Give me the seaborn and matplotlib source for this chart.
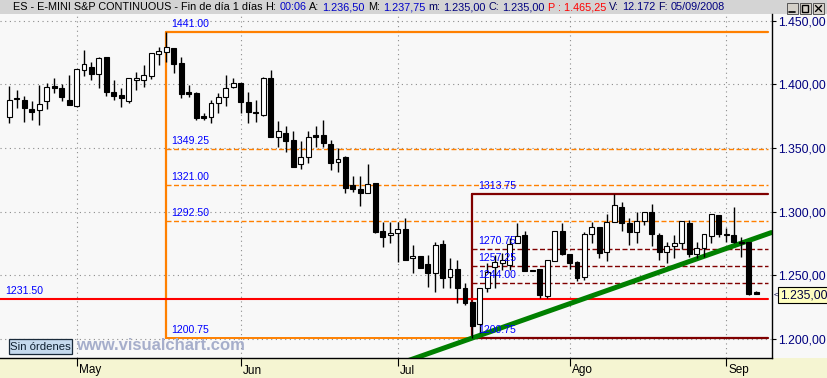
import numpy as np
import pandas as pd
import matplotlib
matplotlib.use("Agg")
import matplotlib.pyplot as plt
import seaborn as sns
from matplotlib.patches import Rectangle
from matplotlib.lines import Line2D

sns.set_theme(style="white")
plt.rcParams['font.family'] = ['Liberation Sans', 'DejaVu Sans']

# ---------------- data ----------------
opens = [1374.0, 1389.5, 1387.5, 1380.25, 1379.75, 1386.5, 1398.5, 1396.75, 1387.5, 1382.75,
         1411.0, 1413.25, 1408.25, 1421.5, 1393.5, 1391.5, 1387.0, 1403.0, 1403.0, 1406.75,
         1424.0, 1425.0, 1428.25, 1416.5, 1393.5, 1393.25, 1374.75, 1374.0, 1385.0, 1389.75,
         1397.5, 1400.75, 1386.0, 1378.5, 1376.0, 1404.5, 1358.25, 1361.5, 1356.25, 1337.0,
         1342.5, 1360.0, 1360.0, 1353.0, 1338.75, 1343.0, 1320.5, 1317.75, 1314.75, 1322.5,
         1284.75, 1281.5, 1283.0, 1286.0, 1263.25, 1265.0, 1259.0, 1251.5, 1274.5, 1248.5,
         1254.75, 1239.75, 1229.0, 1211.75, 1239.75, 1256.75, 1260.0, 1258.0, 1275.0, 1281.5,
         1254.0, 1255.0, 1233.75, 1261.25, 1284.75, 1266.5, 1260.5, 1249.0, 1282.25, 1287.75,
         1268.0, 1291.5, 1303.5, 1290.75, 1284.25, 1292.75, 1299.5, 1281.5, 1268.0, 1273.25,
         1275.0, 1290.75, 1266.5, 1271.25, 1281.0, 1297.25, 1282.5, 1281.5, 1276.5, 1275.75,
         1236.5]
highs = [1398.5, 1395.5, 1390.75, 1386.75, 1399.0, 1401.25, 1405.0, 1400.5, 1407.25, 1412.0,
         1427.0, 1417.75, 1421.0, 1421.75, 1403.25, 1396.75, 1404.75, 1409.75, 1415.0, 1424.5,
         1429.0, 1441.0, 1428.5, 1421.5, 1399.5, 1393.5, 1377.25, 1387.5, 1393.0, 1407.25,
         1405.0, 1401.0, 1394.0, 1388.0, 1406.0, 1411.25, 1371.5, 1367.25, 1363.5, 1355.5,
         1363.5, 1367.25, 1372.0, 1356.25, 1349.75, 1343.5, 1328.0, 1328.0, 1337.5, 1322.75,
         1292.0, 1292.0, 1292.0, 1294.75, 1273.75, 1265.25, 1266.0, 1276.5, 1277.75, 1263.25,
         1262.0, 1243.75, 1229.25, 1240.0, 1259.5, 1266.0, 1267.25, 1279.0, 1291.25, 1284.75,
         1254.5, 1255.25, 1262.0, 1284.5, 1290.75, 1266.75, 1261.25, 1284.25, 1291.5, 1288.0,
         1298.0, 1313.75, 1307.25, 1294.75, 1300.0, 1299.5, 1305.75, 1283.0, 1276.5, 1281.5,
         1292.75, 1293.5, 1276.5, 1282.5, 1298.0, 1297.5, 1287.0, 1303.75, 1280.25, 1276.0,
         1237.75]
lows = [1369.75, 1381.0, 1370.5, 1372.0, 1368.0, 1380.25, 1393.0, 1386.75, 1383.5, 1382.5,
        1406.25, 1403.25, 1396.75, 1391.0, 1387.5, 1382.0, 1385.5, 1395.75, 1398.0, 1404.0,
        1415.0, 1417.75, 1409.0, 1389.0, 1390.0, 1372.0, 1372.0, 1369.75, 1377.25, 1383.0,
        1397.25, 1377.25, 1369.25, 1370.5, 1375.0, 1358.75, 1350.5, 1347.0, 1335.0, 1333.25,
        1338.0, 1351.0, 1351.0, 1332.5, 1331.25, 1314.75, 1315.5, 1304.5, 1314.5, 1283.0,
        1272.5, 1275.5, 1260.75, 1262.0, 1251.5, 1255.75, 1241.0, 1237.0, 1239.75, 1239.75,
        1228.0, 1226.75, 1200.75, 1204.5, 1237.0, 1239.75, 1254.0, 1254.0, 1275.0, 1253.5,
        1253.0, 1232.0, 1232.0, 1261.0, 1266.0, 1254.75, 1245.75, 1246.25, 1275.0, 1263.25,
        1261.5, 1291.5, 1285.0, 1273.75, 1275.0, 1289.5, 1273.25, 1262.0, 1260.0, 1263.25,
        1270.5, 1264.5, 1263.25, 1264.5, 1275.0, 1280.25, 1276.5, 1275.5, 1264.5, 1234.5,
        1235.0]
closes = [1387.5, 1388.5, 1381.0, 1378.0, 1384.75, 1397.5, 1396.75, 1390.25, 1383.75, 1411.75,
          1415.5, 1408.25, 1420.25, 1394.0, 1390.75, 1389.0, 1404.5, 1404.5, 1407.0, 1424.25,
          1425.75, 1429.0, 1416.0, 1392.5, 1392.5, 1373.75, 1373.75, 1385.0, 1390.25, 1397.25,
          1400.75, 1385.75, 1378.0, 1377.25, 1404.5, 1358.75, 1363.0, 1355.75, 1335.25, 1342.5,
          1358.75, 1358.75, 1353.5, 1338.5, 1341.25, 1318.25, 1317.5, 1314.5, 1321.5, 1284.0,
          1279.75, 1283.5, 1286.0, 1262.0, 1265.0, 1256.0, 1251.5, 1273.5, 1247.5, 1254.75,
          1239.75, 1228.5, 1210.5, 1239.75, 1252.75, 1260.75, 1262.0, 1274.5, 1281.0, 1253.5,
          1253.0, 1234.5, 1262.0, 1284.5, 1266.5, 1259.5, 1248.0, 1282.5, 1287.75, 1267.25,
          1292.0, 1305.0, 1291.25, 1284.25, 1292.75, 1299.5, 1282.25, 1268.0, 1273.25, 1275.0,
          1292.5, 1266.5, 1271.25, 1282.5, 1297.75, 1282.5, 1281.5, 1275.75, 1275.0, 1235.25,
          1235.0]

month_labels = ["May", "Jun", "Jul", "Ago", "Sep"]
month_index = [9, 31, 52, 75, 96]

price_ticks = [1200, 1250, 1300, 1350, 1400, 1450]
price_tick_labels = ["1.200,00", "1.250,00", "1.300,00", "1.350,00", "1.400,00", "1.450,00"]

fib1_levels = [1441.00, 1349.25, 1321.00, 1292.50, 1200.75]
fib1_labels = ["1441.00", "1349.25", "1321.00", "1292.50", "1200.75"]
fib1_start = 21
fib2_levels = [1313.75, 1270.75, 1257.25, 1244.00, 1200.75]
fib2_labels = ["1313.75", "1270.75", "1257.25", "1244.00", "1200.75"]
fib2_start = 62
support_level = 1231.50
support_label = "1231.50"
trend_x = [52, 102]
trend_y = [1180.1, 1283.5]
last_price_label = "1.235,00"

title_segments = [
    ("ES - E-MINI S&P CONTINUOUS - Fin de día 1 días", "#000000"),
    ("H:", "#000000"), ("00:06", "#0000C8"),
    ("A:", "#000000"), ("1.236,50", "#0000C8"),
    ("M:", "#000000"), ("1.237,75", "#0000C8"),
    ("m:", "#000060"), ("1.235,00", "#000080"),
    ("C:", "#000060"), ("1.235,00", "#000080"),
    ("P : 1.465,25", "#FF0000"),
    ("V:", "#000060"), ("12.172", "#000080"),
    ("F:", "#000060"), ("05/09/2008", "#000080"),
]

df = pd.DataFrame({"o": opens, "h": highs, "l": lows, "c": closes})
df["i"] = np.arange(len(df))

# ---------------- figure ----------------
W, H = 828, 378
fig = plt.figure(figsize=(W / 100, H / 100), dpi=100, facecolor="#F8F8F8")

def fx(px):
    return px / W

def fy(py):
    return 1 - py / H

# background bands (behind the axes)
fig.patches.append(Rectangle((0, fy(14)), 1, 14 / H, transform=fig.transFigure,
                             facecolor="#D4D4D4", edgecolor="none", zorder=-2))
fig.patches.append(Rectangle((0, 0), 1, fy(358), transform=fig.transFigure,
                             facecolor="#F5F5D2", edgecolor="none", zorder=-2))

ax = fig.add_axes([0, fy(358), fx(772), (358 - 14) / H])
ax.set_facecolor("#F8F8F8")
x0 = -9.3 / 7.47
x1 = (772 - 9.3) / 7.47
ax.set_xlim(x0, x1)
ax.set_ylim(1185.05, 1455.13)

# grid
grid_kw = dict(color="#8C8C8C", lw=0.8, linestyle=(0, (1, 3.2)), zorder=1)
for p in price_ticks:
    ax.axhline(p, **grid_kw)
for m in month_index:
    ax.axvline(m, **grid_kw)

x_end = (768 - 9.3) / 7.47
dash = (0, (3.6, 1.8))
ORANGE = "#FF8000"
DRED = "#800000"
BLUE = "#0000FF"

# fib 1 (orange)
ax.plot([fib1_start, fib1_start], [fib1_levels[-1], fib1_levels[0]], color=ORANGE, lw=1.6, zorder=2)
ax.plot([fib1_start, x_end], [fib1_levels[0], fib1_levels[0]], color=ORANGE, lw=1.6, zorder=2)
ax.plot([fib1_start, fib2_start], [fib1_levels[-1], fib1_levels[-1]], color=ORANGE, lw=1.4, zorder=2)
for lv in fib1_levels[1:-1]:
    ax.plot([fib1_start, x_end], [lv, lv], color=ORANGE, lw=1.0, linestyle=dash, zorder=2)
for lv, lab in zip(fib1_levels, fib1_labels):
    ax.annotate(lab, xy=(fib1_start, lv), xytext=(3.5, 5.8), textcoords="offset points",
                ha="left", va="center", color=BLUE, fontsize=7.6, zorder=6)

# fib 2 (dark red)
ax.plot([fib2_start - 0.1, fib2_start - 0.1], [fib2_levels[-1], fib2_levels[0]], color=DRED, lw=1.6, zorder=2)
for lv in (fib2_levels[0], fib2_levels[-1]):
    ax.plot([fib2_start - 0.1, x_end], [lv, lv], color=DRED, lw=1.6, zorder=2)
for lv in fib2_levels[1:-1]:
    ax.plot([fib2_start, x_end], [lv, lv], color=DRED, lw=1.0, linestyle=dash, zorder=2)
for lv, lab in zip(fib2_levels, fib2_labels):
    ax.annotate(lab, xy=(fib2_start, lv), xytext=(4, 5.8), textcoords="offset points",
                ha="left", va="center", color=BLUE, fontsize=7.6, zorder=6)

# support line
ax.plot([x0, x_end], [support_level, support_level], color="#FF0000", lw=1.5, zorder=2)
ax.annotate(support_label, xy=(x0, support_level), xytext=(3.5, 5.6), textcoords="offset points",
            ha="left", va="center", color=BLUE, fontsize=7.6, zorder=6)

# trend line (seaborn)
sns.lineplot(x=trend_x, y=trend_y, ax=ax, color="#008000", linewidth=3.6, zorder=2.5)

# candles
ax.vlines(df["i"], df["l"], df["h"], color="black", lw=1.0, zorder=4)
bottoms = np.minimum(df["o"], df["c"])
heights = np.maximum(np.abs(df["c"] - df["o"]), 0.6)
faces = np.where(df["c"] >= df["o"], "white", "black")
ax.bar(df["i"], heights, bottom=bottoms, width=0.66, color=faces, edgecolor="black",
       linewidth=0.8, zorder=5)

# axes styling
for s in ("top", "left"):
    ax.spines[s].set_visible(False)
ax.spines["right"].set_color("black")
ax.spines["right"].set_linewidth(1.0)
ax.spines["bottom"].set_color("black")
ax.spines["bottom"].set_linewidth(1.0)
ax.yaxis.tick_right()
ax.set_yticks(price_ticks)
ax.set_yticklabels(price_tick_labels)
ax.tick_params(axis="y", which="both", right=True, left=False, direction="out", length=3,
               width=0.8, color="black", pad=1.2, labelsize=8.8, labelcolor="#000080")
ax.set_xticks(month_index)
ax.set_xticklabels([""] * len(month_index))
ax.tick_params(axis="x", bottom=True, direction="out", length=6, width=0.8, color="black")
for m, lab in zip(month_index, month_labels):
    ax.annotate(lab, xy=(m, 0), xycoords=("data", "axes fraction"), xytext=(1.5, -9),
                textcoords="offset points", ha="left", va="center", fontsize=8.5, color="black",
                annotation_clip=False)
ax.set_xlabel("")
ax.set_ylabel("")

# last price box
fig.patches.append(Rectangle((fx(778), fy(303)), fx(52), 16 / H, transform=fig.transFigure,
                             facecolor="#FFFFC0", edgecolor="black", lw=0.8, zorder=5))
fig.text(fx(780), fy(295), last_price_label, ha="left", va="center", fontsize=8.8, color="#000040", zorder=6)
fig.text(fx(773.5), fy(295), "<", ha="left", va="center", fontsize=6, color="#000040", zorder=6)

# "Sin órdenes" box + watermark
fig.patches.append(Rectangle((fx(9), fy(354)), fx(63), 15 / H, transform=fig.transFigure,
                             facecolor="#C6DAEE", edgecolor="#1A2A3A", lw=0.9, zorder=5))
fig.text(fx(40.5), fy(346.5), "Sin órdenes", ha="center", va="center", fontsize=8.2,
         color="#102030", zorder=6)

fig.canvas.draw()
renderer = fig.canvas.get_renderer()

def measure(s, size, weight="normal"):
    t = fig.text(0, 0, s, fontsize=size, fontweight=weight)
    w = t.get_window_extent(renderer).width
    t.remove()
    return w

wm = "www.visualchart.com"
wm_size = 10 * 169 / measure(wm, 10, "bold")
fig.text(fx(76), fy(345), wm, ha="left", va="center", fontsize=wm_size, fontweight="bold",
         color="#A6AECB", zorder=3)

# title bar text
full = " ".join(s for s, _ in title_segments)
tsize = 8 * 712 / measure(full, 8)
space = measure("a a", tsize) - measure("aa", tsize)
cur = 13
for s, col in title_segments:
    fig.text(fx(cur), fy(7.5), s, ha="left", va="center", fontsize=tsize, color=col, zorder=6)
    cur += measure(s, tsize) + space

# window buttons
for bx in (787, 800, 813):
    fig.patches.append(Rectangle((fx(bx), fy(14)), fx(11), 11 / H, transform=fig.transFigure,
                                 facecolor="#D4D0C8", edgecolor="#404040", lw=0.6, zorder=5))
fig.lines.append(Line2D([fx(789.5), fx(795)], [fy(11.5), fy(11.5)], transform=fig.transFigure,
                        color="black", lw=1.2, zorder=6))
fig.patches.append(Rectangle((fx(802.5), fy(12)), fx(6), 7 / H, transform=fig.transFigure,
                             facecolor="none", edgecolor="black", lw=1.0, zorder=6))
fig.lines.append(Line2D([fx(815.5), fx(821.5)], [fy(5.5), fy(11.5)], transform=fig.transFigure,
                        color="black", lw=1.0, zorder=6))
fig.lines.append(Line2D([fx(815.5), fx(821.5)], [fy(11.5), fy(5.5)], transform=fig.transFigure,
                        color="black", lw=1.0, zorder=6))

fig.savefig("out.png", dpi=100, facecolor=fig.get_facecolor())
